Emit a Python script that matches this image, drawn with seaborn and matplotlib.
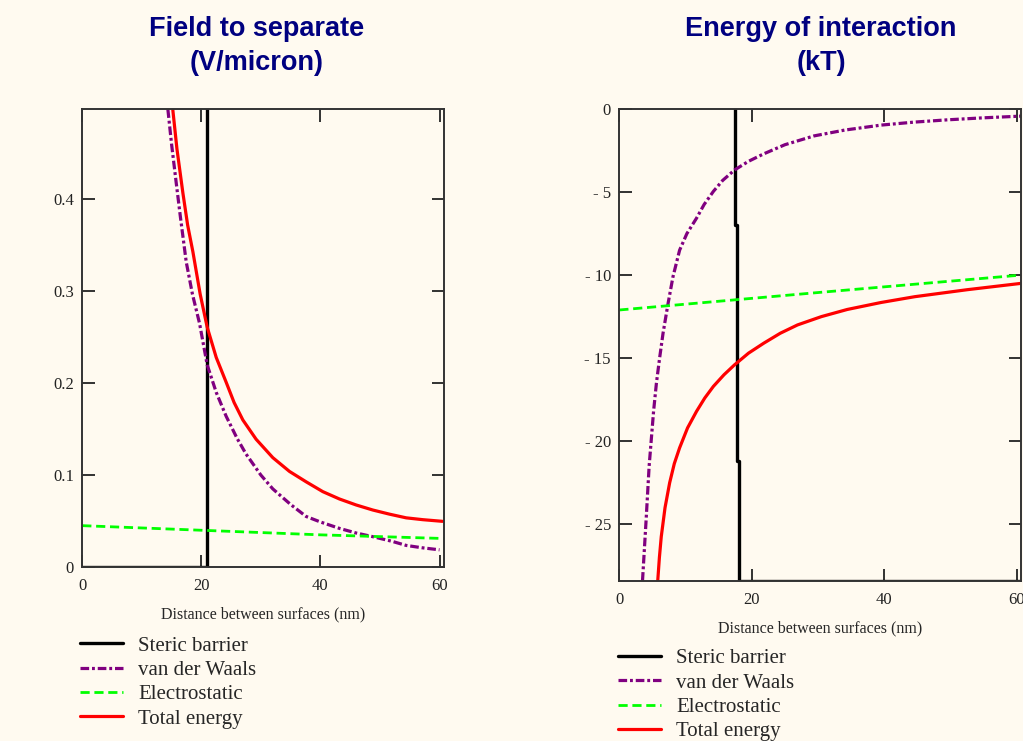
import numpy as np
import pandas as pd
import matplotlib
matplotlib.use("Agg")
import matplotlib.pyplot as plt
import seaborn as sns

# ---- data ----
# left panel: field to separate (V/micron)
field_x_limit = 60.8
field_y_limit = 0.498
field_steric_x = [0, 21.0, 21.0, 60.8]
field_steric_y = [0, 0, 1.0, 1.0]
field_vdw_x = [14.38, 15.0, 15.78, 16.5, 17.46, 18.5, 19.7, 20.98, 22.5, 24.17, 26.0, 27.5,
               30.0, 32.0, 35.0, 37.6, 40.0, 43.2, 46.0, 48.8, 52.0, 54.4, 57.0, 60.0]
field_vdw_y = [0.498, 0.46, 0.418, 0.38, 0.332, 0.297, 0.265, 0.220, 0.19, 0.164, 0.14, 0.123,
               0.100, 0.085, 0.068, 0.055, 0.049, 0.042, 0.037, 0.033, 0.028, 0.0235, 0.021, 0.0187]
field_elec_x = [0, 20, 40, 60.8]
field_elec_y = [0.045, 0.040, 0.035, 0.031]
field_total_x = [15.2, 15.9, 16.9, 17.7, 18.58, 19.8, 20.98, 22.5, 24.17, 25.5, 26.97, 29.2,
                 32.0, 34.8, 37.6, 40.4, 43.2, 46.0, 48.8, 51.6, 54.4, 57.2, 60.5]
field_total_y = [0.498, 0.455, 0.407, 0.372, 0.343, 0.297, 0.261, 0.228, 0.201, 0.179, 0.160, 0.139,
                 0.119, 0.104, 0.0927, 0.082, 0.074, 0.0675, 0.062, 0.0575, 0.0535, 0.0515, 0.0497]

# right panel: energy of interaction (kT)
energy_x_limit = 60.6
energy_y_limit = -28.4
energy_steric_x = [0, 17.4, 17.4, 17.7, 17.7, 18.0, 18.0, 60.6]
energy_steric_y = [5, 5, -7.0, -7.0, -21.2, -21.2, -28.4, -28.4]
energy_vdw_x = [3.5, 4.05, 4.5, 5.17, 5.6, 6.08, 6.6, 7.34, 8.1, 9.1, 10.2, 11.66, 12.8, 14.2,
                15.6, 17.4, 19.5, 21.8, 25.0, 29.4, 34.0, 39.5, 44.5, 49.6, 55.0, 60.6]
energy_vdw_y = [-28.4, -24.7, -21.5, -18.2, -16.5, -15.0, -13.5, -11.75, -10.1, -8.5, -7.5, -6.57,
                -5.75, -4.96, -4.3, -3.67, -3.15, -2.7, -2.15, -1.62, -1.27, -0.97, -0.79, -0.65,
                -0.53, -0.43]
energy_elec_x = [0, 30, 60.6]
energy_elec_y = [-12.1, -11.05, -10.0]
energy_total_x = [5.8, 6.05, 6.33, 6.9, 7.6, 8.3, 9.1, 10.3, 11.66, 12.9, 14.2, 15.8, 17.4,
                  19.5, 21.8, 24.3, 26.9, 30.5, 34.4, 39.5, 44.6, 52.5, 60.6]
energy_total_y = [-28.4, -27.0, -25.75, -24.0, -22.5, -21.35, -20.4, -19.2, -18.2, -17.4, -16.7,
                  -16.0, -15.4, -14.7, -14.1, -13.5, -13.0, -12.5, -12.07, -11.65, -11.3, -10.88,
                  -10.5]

x_ticks = [0, 20, 40, 60]
field_yticks = [0, 0.1, 0.2, 0.3, 0.4]
field_yticklabels = ["0", "0.1", "0.2", "0.3", "0.4"]
energy_yticks = [0, -5, -10, -15, -20, -25]
energy_yticklabels = ["0", "- 5", "- 10", "- 15", "- 20", "- 25"]

series_names = ["Steric barrier", "van der Waals", "Electrostatic", "Total energy"]
xlabel = "Distance between surfaces (nm)"

# ---- style ----
bg = "#fffaf0"
sns.set_style("ticks", {"axes.facecolor": bg, "figure.facecolor": bg,
                        "axes.edgecolor": "#333333"})
plt.rcParams["font.family"] = ["Liberation Serif", "DejaVu Serif"]

colors = ["black", "#800080", "#00ff00", "#ff0000"]
styles = ["-", (0, (2.7, 0.9, 0.9, 0.9)), (0, (3.3, 1.7)), "-"]
widths = [2.4, 2.3, 2.0, 2.3]

fig = plt.figure(figsize=(10.23, 7.41), dpi=100)
ax1 = fig.add_axes([0.0804, 0.2348, 0.3539, 0.6177])
ax2 = fig.add_axes([0.6054, 0.2163, 0.3924, 0.6366])

left_series = [(field_steric_x, field_steric_y), (field_vdw_x, field_vdw_y),
               (field_elec_x, field_elec_y), (field_total_x, field_total_y)]
right_series = [(energy_steric_x, energy_steric_y), (energy_vdw_x, energy_vdw_y),
                (energy_elec_x, energy_elec_y), (energy_total_x, energy_total_y)]

for ax, series in [(ax1, left_series), (ax2, right_series)]:
    for (xs, ys), name, c, ls, lw in zip(series, series_names, colors, styles, widths):
        df = pd.DataFrame({"x": xs, "y": ys})
        sns.lineplot(data=df, x="x", y="y", ax=ax, sort=False, estimator=None,
                     color=c, linewidth=lw, label=name)
        ax.lines[-1].set_linestyle(ls)
        ax.lines[-1].set_dash_capstyle("butt")

ax1.set_xlim(0, field_x_limit)
ax1.set_ylim(0, field_y_limit)
ax1.set_yticks(field_yticks)
ax1.set_yticklabels(field_yticklabels)

ax2.set_xlim(0, energy_x_limit)
ax2.set_ylim(energy_y_limit, 0)
ax2.set_yticks(energy_yticks)
ax2.set_yticklabels(energy_yticklabels)

for ax in (ax1, ax2):
    ax.set_xticks(x_ticks)
    ax.set_xlabel(xlabel, fontsize=11.5, labelpad=9)
    ax.set_ylabel("")
    ax.tick_params(direction="in", length=9, width=1.3, top=True, right=True,
                   labelsize=12, colors="#222222")
    ax.tick_params(axis="x", pad=8)
    ax.tick_params(axis="y", pad=6)
    for sp in ax.spines.values():
        sp.set_linewidth(1.4)
        sp.set_color("#333333")

title_kw = dict(ha="center", va="center", fontsize=19.5, fontweight="bold",
                color="#000080", family=["Liberation Sans", "DejaVu Sans"],
                linespacing=1.45)
fig.text(256.7 / 1023, 1 - 46 / 741, "Field to separate\n(V/micron)", **title_kw)
fig.text(821 / 1023, 1 - 46 / 741, "Energy of interaction\n(kT)", **title_kw)

leg_kw = dict(loc="upper left", frameon=False, fontsize=15, handlelength=2.07,
              handletextpad=0.72, labelspacing=0.23, borderpad=0, borderaxespad=0,
              bbox_transform=fig.transFigure)
ax1.legend(bbox_to_anchor=(80 / 1023, 0.1416), **leg_kw)
ax2.legend(bbox_to_anchor=(618 / 1023, 0.1245), **leg_kw)

fig.savefig("out.png", dpi=100, facecolor=bg)
